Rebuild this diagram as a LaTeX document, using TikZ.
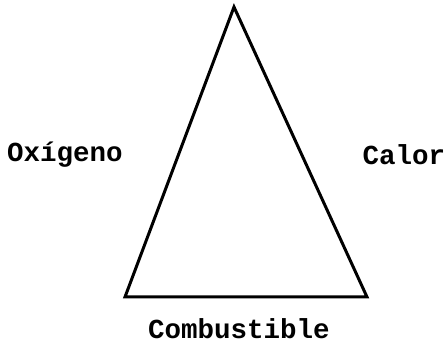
\documentclass[tikz,border=0pt]{standalone}
\usepackage{fontspec}
\setmonofont{Liberation Mono}
\begin{document}
\begin{tikzpicture}[x=1pt,y=-1pt,
  lbl/.style={font=\ttfamily\bfseries\fontsize{27.5}{32}\selectfont, inner sep=0pt, anchor=center},
  side/.style={line width=3pt, line join=miter, black}]
\useasboundingbox (0,0) rectangle (447,347);
\coordinate (top) at (234,7);
\coordinate (bl) at (125,297);
\coordinate (br) at (367,297);
\draw[side] (top) -- (bl) -- (br) -- cycle;
\node[lbl] (ox) at (65,155) {Oxígeno};
\node[lbl] (ca) at (404,155) {Calor};
\node[lbl] (co) at (239,329) {Combustible};
\end{tikzpicture}
\end{document}
